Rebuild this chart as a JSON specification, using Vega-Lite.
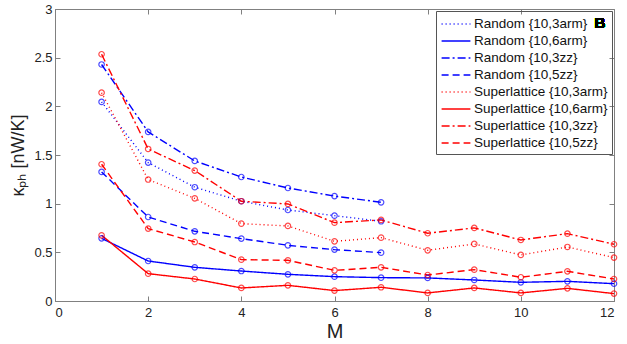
{
  "$schema": "https://vega.github.io/schema/vega-lite/v6.json",
  "width": 559,
  "height": 292,
  "autosize": "none",
  "padding": {"left": 55, "top": 9, "right": 13, "bottom": 43},
  "background": "white",
  "config": {
    "font": "Liberation Sans",
    "view": {"stroke": "#808080", "strokeWidth": 1},
    "axis": {
      "domainColor": "#808080", "tickColor": "#808080", "grid": false,
      "labelColor": "#222", "labelFontSize": 13, "labelFont": "Liberation Sans",
      "titleColor": "#222", "titleFont": "Liberation Sans", "titleFontWeight": "normal", "titleFontSize": 17
    },
    "legend": {"labelFont": "Liberation Sans"}
  },
  "data": {"values": [
    {"s": "Random {10,3arm}", "M": 1, "k": 2.045}, {"s": "Random {10,3arm}", "M": 2, "k": 1.422}, {"s": "Random {10,3arm}", "M": 3, "k": 1.169}, {"s": "Random {10,3arm}", "M": 4, "k": 1.025}, {"s": "Random {10,3arm}", "M": 5, "k": 0.935}, {"s": "Random {10,3arm}", "M": 6, "k": 0.877}, {"s": "Random {10,3arm}", "M": 7, "k": 0.819},
    {"s": "Random {10,6arm}", "M": 1, "k": 0.644}, {"s": "Random {10,6arm}", "M": 2, "k": 0.411}, {"s": "Random {10,6arm}", "M": 3, "k": 0.346}, {"s": "Random {10,6arm}", "M": 4, "k": 0.308}, {"s": "Random {10,6arm}", "M": 5, "k": 0.274}, {"s": "Random {10,6arm}", "M": 6, "k": 0.25}, {"s": "Random {10,6arm}", "M": 7, "k": 0.24}, {"s": "Random {10,6arm}", "M": 8, "k": 0.237}, {"s": "Random {10,6arm}", "M": 9, "k": 0.216}, {"s": "Random {10,6arm}", "M": 10, "k": 0.192}, {"s": "Random {10,6arm}", "M": 11, "k": 0.202}, {"s": "Random {10,6arm}", "M": 12, "k": 0.178},
    {"s": "Random {10,3zz}", "M": 1, "k": 2.43}, {"s": "Random {10,3zz}", "M": 2, "k": 1.737}, {"s": "Random {10,3zz}", "M": 3, "k": 1.439}, {"s": "Random {10,3zz}", "M": 4, "k": 1.274}, {"s": "Random {10,3zz}", "M": 5, "k": 1.161}, {"s": "Random {10,3zz}", "M": 6, "k": 1.078}, {"s": "Random {10,3zz}", "M": 7, "k": 1.014},
    {"s": "Random {10,5zz}", "M": 1, "k": 1.326}, {"s": "Random {10,5zz}", "M": 2, "k": 0.863}, {"s": "Random {10,5zz}", "M": 3, "k": 0.716}, {"s": "Random {10,5zz}", "M": 4, "k": 0.641}, {"s": "Random {10,5zz}", "M": 5, "k": 0.572}, {"s": "Random {10,5zz}", "M": 6, "k": 0.528}, {"s": "Random {10,5zz}", "M": 7, "k": 0.497},
    {"s": "Superlattice {10,3arm}", "M": 1, "k": 2.14}, {"s": "Superlattice {10,3arm}", "M": 2, "k": 1.248}, {"s": "Superlattice {10,3arm}", "M": 3, "k": 1.055}, {"s": "Superlattice {10,3arm}", "M": 4, "k": 0.795}, {"s": "Superlattice {10,3arm}", "M": 5, "k": 0.771}, {"s": "Superlattice {10,3arm}", "M": 6, "k": 0.613}, {"s": "Superlattice {10,3arm}", "M": 7, "k": 0.651}, {"s": "Superlattice {10,3arm}", "M": 8, "k": 0.521}, {"s": "Superlattice {10,3arm}", "M": 9, "k": 0.586}, {"s": "Superlattice {10,3arm}", "M": 10, "k": 0.473}, {"s": "Superlattice {10,3arm}", "M": 11, "k": 0.555}, {"s": "Superlattice {10,3arm}", "M": 12, "k": 0.446},
    {"s": "Superlattice {10,6arm}", "M": 1, "k": 0.675}, {"s": "Superlattice {10,6arm}", "M": 2, "k": 0.281}, {"s": "Superlattice {10,6arm}", "M": 3, "k": 0.226}, {"s": "Superlattice {10,6arm}", "M": 4, "k": 0.134}, {"s": "Superlattice {10,6arm}", "M": 5, "k": 0.161}, {"s": "Superlattice {10,6arm}", "M": 6, "k": 0.107}, {"s": "Superlattice {10,6arm}", "M": 7, "k": 0.141}, {"s": "Superlattice {10,6arm}", "M": 8, "k": 0.083}, {"s": "Superlattice {10,6arm}", "M": 9, "k": 0.134}, {"s": "Superlattice {10,6arm}", "M": 10, "k": 0.083}, {"s": "Superlattice {10,6arm}", "M": 11, "k": 0.13}, {"s": "Superlattice {10,6arm}", "M": 12, "k": 0.076},
    {"s": "Superlattice {10,3zz}", "M": 1, "k": 2.535}, {"s": "Superlattice {10,3zz}", "M": 2, "k": 1.562}, {"s": "Superlattice {10,3zz}", "M": 3, "k": 1.34}, {"s": "Superlattice {10,3zz}", "M": 4, "k": 1.025}, {"s": "Superlattice {10,3zz}", "M": 5, "k": 0.997}, {"s": "Superlattice {10,3zz}", "M": 6, "k": 0.805}, {"s": "Superlattice {10,3zz}", "M": 7, "k": 0.833}, {"s": "Superlattice {10,3zz}", "M": 8, "k": 0.696}, {"s": "Superlattice {10,3zz}", "M": 9, "k": 0.751}, {"s": "Superlattice {10,3zz}", "M": 10, "k": 0.627}, {"s": "Superlattice {10,3zz}", "M": 11, "k": 0.692}, {"s": "Superlattice {10,3zz}", "M": 12, "k": 0.583},
    {"s": "Superlattice {10,5zz}", "M": 1, "k": 1.405}, {"s": "Superlattice {10,5zz}", "M": 2, "k": 0.744}, {"s": "Superlattice {10,5zz}", "M": 3, "k": 0.606}, {"s": "Superlattice {10,5zz}", "M": 4, "k": 0.425}, {"s": "Superlattice {10,5zz}", "M": 5, "k": 0.418}, {"s": "Superlattice {10,5zz}", "M": 6, "k": 0.315}, {"s": "Superlattice {10,5zz}", "M": 7, "k": 0.346}, {"s": "Superlattice {10,5zz}", "M": 8, "k": 0.267}, {"s": "Superlattice {10,5zz}", "M": 9, "k": 0.322}, {"s": "Superlattice {10,5zz}", "M": 10, "k": 0.244}, {"s": "Superlattice {10,5zz}", "M": 11, "k": 0.305}, {"s": "Superlattice {10,5zz}", "M": 12, "k": 0.226}
  ]},
  "resolve": {"axis": {"x": "independent", "y": "independent"}},
  "layer": [
    {
      "mark": {"type": "line", "strokeWidth": 1.4},
      "encoding": {
        "x": {"field": "M", "type": "quantitative", "scale": {"domain": [0, 12], "nice": false},
              "axis": {"title": "M", "titleFontSize": 20, "values": [0, 2, 4, 6, 8, 10, 12], "tickSize": -5, "labelPadding": 10, "titlePadding": 2}},
        "y": {"field": "k", "type": "quantitative", "scale": {"domain": [0, 3], "nice": false},
              "axis": {"title": "κₚₕ [nW/K]", "titleFontSize": 18, "values": [0, 0.5, 1, 1.5, 2, 2.5, 3], "labelExpr": "datum.value", "tickSize": -5, "labelPadding": 8, "titlePadding": 6}},
        "color": {"field": "s", "type": "nominal",
          "scale": {"domain": ["Random {10,3arm}", "Random {10,6arm}", "Random {10,3zz}", "Random {10,5zz}", "Superlattice {10,3arm}", "Superlattice {10,6arm}", "Superlattice {10,3zz}", "Superlattice {10,5zz}"],
                    "range": ["#0000ff", "#0000ff", "#0000ff", "#0000ff", "#ff0000", "#ff0000", "#ff0000", "#ff0000"]},
          "legend": {"title": null, "orient": "top-right", "offset": 2, "strokeColor": "#555", "padding": 4,
                     "labelFontSize": 13.5, "labelColor": "#111", "symbolType": "M-1.8,0H1.8", "symbolSize": 256, "symbolStrokeWidth": 1.4, "rowPadding": 1, "labelOffset": 9, "labelLimit": 200, "symbolOffset": 7}},
        "strokeDash": {"field": "s", "type": "nominal",
          "scale": {"domain": ["Random {10,3arm}", "Random {10,6arm}", "Random {10,3zz}", "Random {10,5zz}", "Superlattice {10,3arm}", "Superlattice {10,6arm}", "Superlattice {10,3zz}", "Superlattice {10,5zz}"],
                    "range": [[1, 3], [1, 0], [8, 3, 2, 3], [7, 4], [1, 3], [1, 0], [8, 3, 2, 3], [7, 4]]}}
      }
    },
    {
      "mark": {"type": "point", "filled": false, "size": 30, "strokeWidth": 1.2},
      "encoding": {
        "x": {"field": "M", "type": "quantitative", "axis": null},
        "y": {"field": "k", "type": "quantitative", "axis": null},
        "color": {"field": "s", "type": "nominal", "legend": null}
      }
    },
    {
      "mark": {"type": "text", "text": "B", "fontWeight": "bold", "fontSize": 15, "font": "Liberation Sans", "color": "black"},
      "encoding": {
        "x": {"datum": 11.7, "type": "quantitative", "axis": {"orient": "top", "labels": false, "title": null, "domain": false, "values": [0, 2, 4, 6, 8, 10, 12], "tickSize": -5}},
        "y": {"datum": 2.86, "type": "quantitative", "axis": {"orient": "right", "labels": false, "title": null, "domain": false, "values": [0, 0.5, 1, 1.5, 2, 2.5, 3], "tickSize": -5}}
      }
    }
  ]
}
